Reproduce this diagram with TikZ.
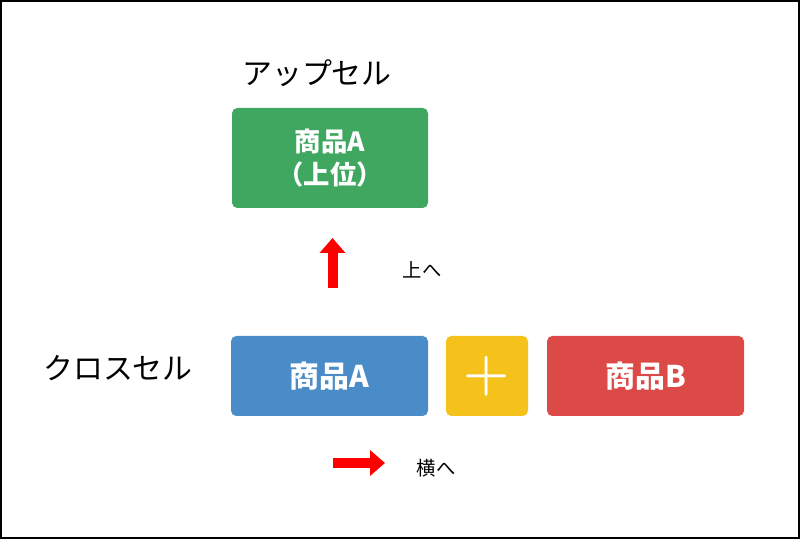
\documentclass[tikz,border=0pt]{standalone}
\usepackage{fontspec}
\newfontfamily\cjk{Noto Sans CJK JP}
\usetikzlibrary{positioning,arrows.meta}
\definecolor{boxgreen}{HTML}{3FA75F}
\definecolor{boxblue}{HTML}{4A8CC8}
\definecolor{boxyellow}{HTML}{F5C21B}
\definecolor{boxred}{HTML}{DC4A48}
\begin{document}
\begin{tikzpicture}[
  box/.style={rounded corners=3pt,text=white,font=\cjk\bfseries\fontsize{17}{19}\selectfont,align=center,inner sep=0pt},
  caption/.style={font=\cjk\fontsize{17}{19}\selectfont},
  small/.style={font=\cjk\fontsize{11}{13}\selectfont},
  redarrow/.style={red,line width=0.2cm,-{Triangle[width=0.5cm,length=0.3cm]}}]
\draw[thick] (0.02,0.02) rectangle (15.98,10.76);
\useasboundingbox (0,0) rectangle (16,10.78);
% upper row
\node[box,fill=boxgreen,minimum width=3.92cm,minimum height=2cm,font=\cjk\bfseries\fontsize{15}{19}\selectfont] (upA) at (6.6,7.62) {商品A\\（上位）};
\node[caption] (upsell) at (6.34,9.32) {アップセル};
% lower row
\node[box,fill=boxblue,minimum width=3.94cm,minimum height=1.6cm] (crossA) at (6.59,3.26) {商品A};
\node[box,fill=boxyellow,minimum width=1.64cm,minimum height=1.6cm,font=\bfseries\fontsize{30}{30}\selectfont] (plus) at (9.74,3.26) {+};
\node[box,fill=boxred,minimum width=3.94cm,minimum height=1.6cm] (crossB) at (12.91,3.26) {商品B};
\node[caption] (crosssell) at (2.36,3.42) {クロスセル};
% arrows
\coordinate (upS) at (6.65,5.02);
\coordinate (upE) at (6.65,6.02);
\draw[redarrow] (upS) -- (upE);
\node[small] (upL) at (8.44,5.38) {上へ};
\coordinate (rtS) at (6.66,1.52);
\coordinate (rtE) at (7.7,1.52);
\draw[redarrow] (rtS) -- (rtE);
\node[small] (rtL) at (8.72,1.42) {横へ};
\end{tikzpicture}
\end{document}
